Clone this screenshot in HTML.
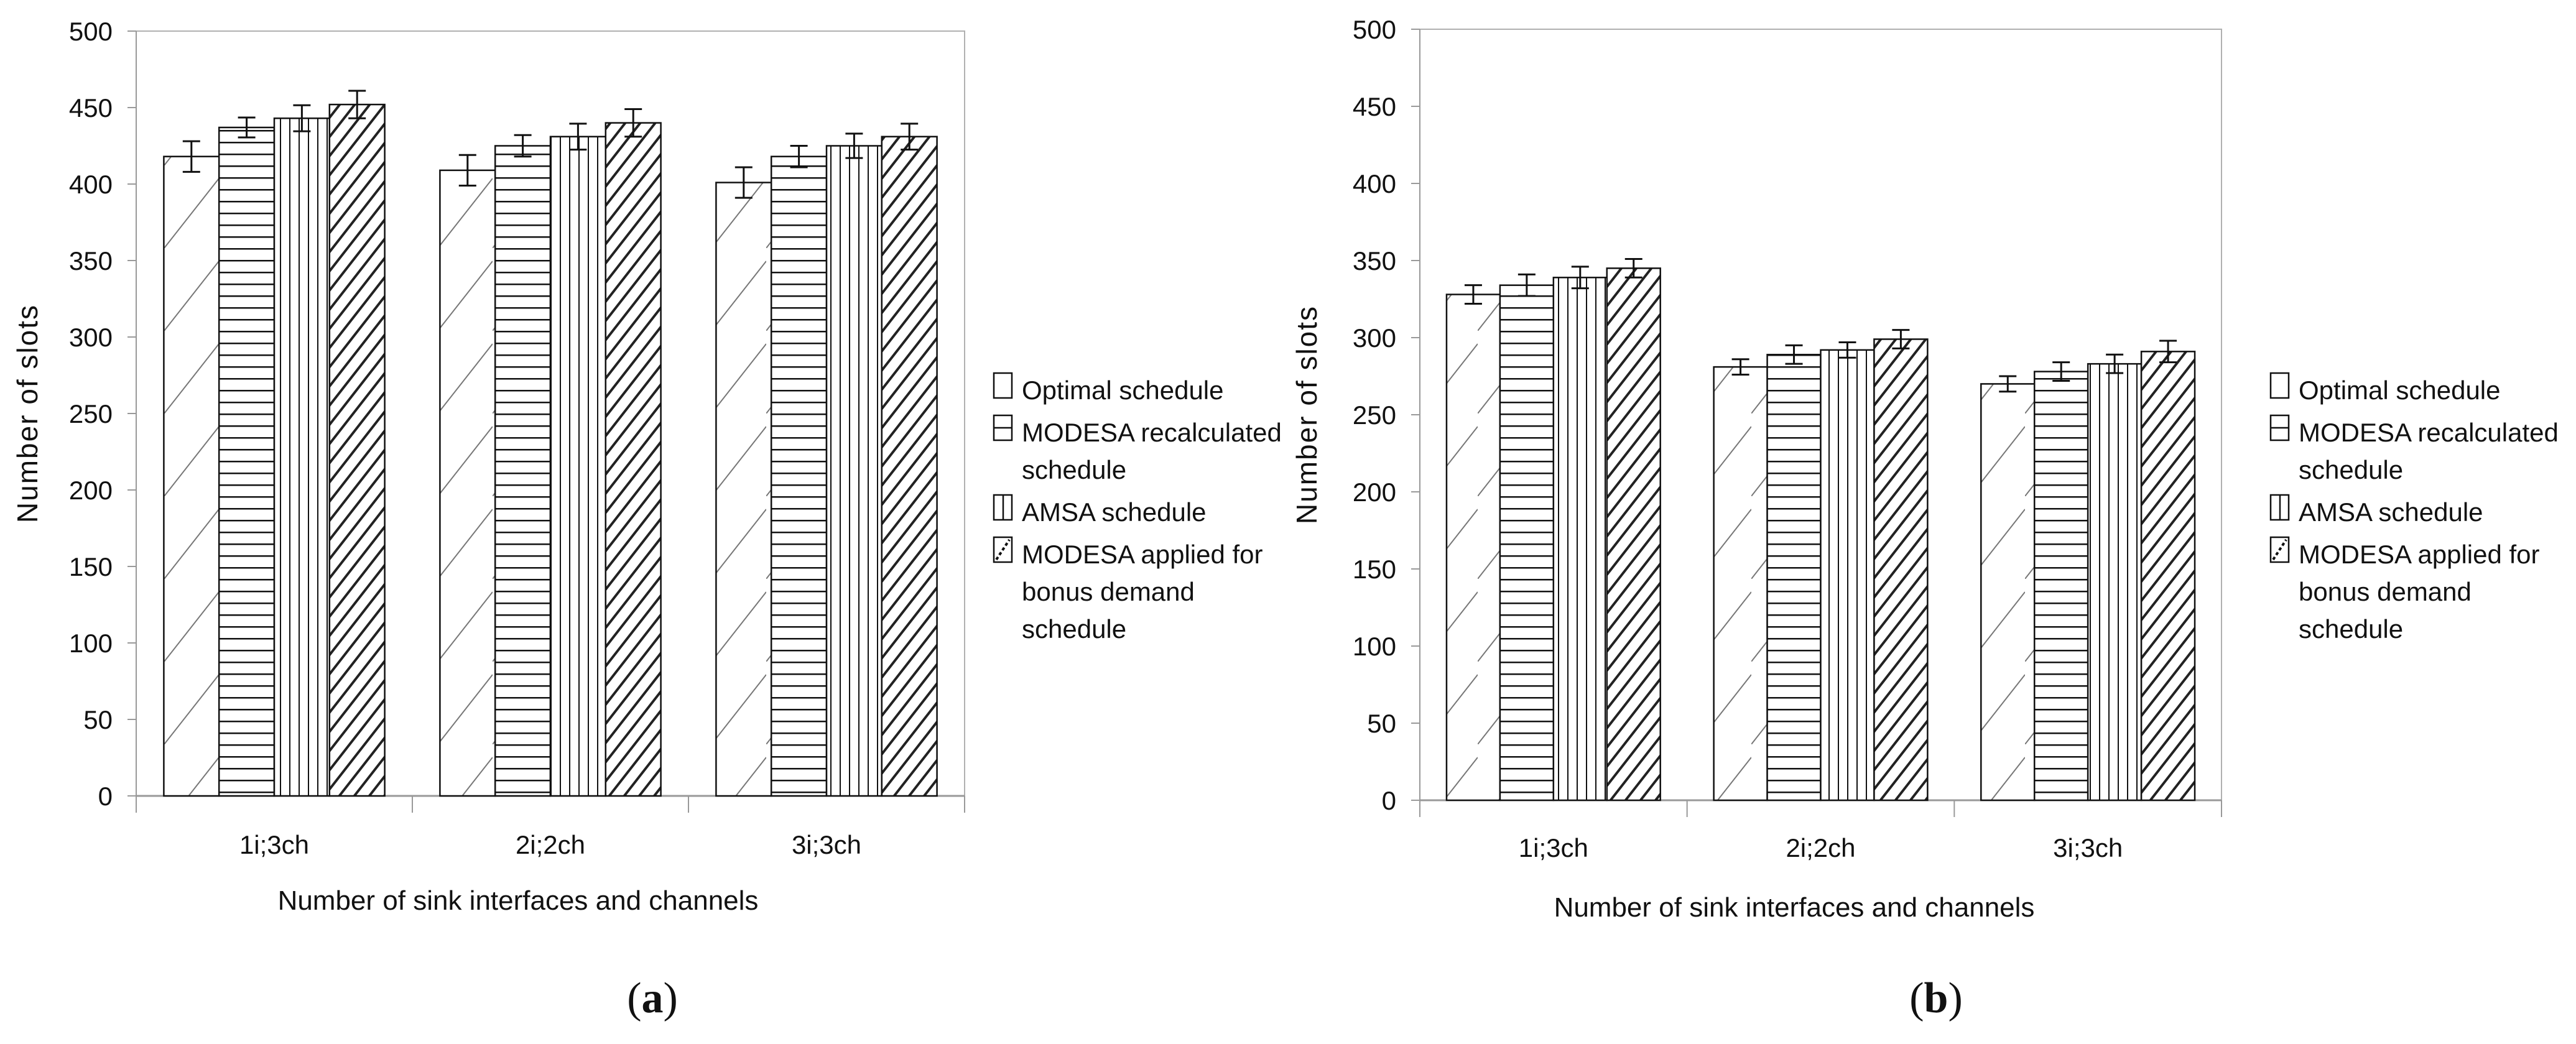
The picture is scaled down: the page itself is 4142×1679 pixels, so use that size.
<!DOCTYPE html>
<html><head><meta charset="utf-8"><style>
html,body{margin:0;padding:0;background:#fff}
svg{display:block}
text{font-family:"Liberation Sans",sans-serif;fill:#111}
</style></head><body>
<svg id="svg" width="4142" height="1679" viewBox="0 0 4142 1679" xmlns="http://www.w3.org/2000/svg">
<defs>
<pattern id="p-opt" patternUnits="userSpaceOnUse" width="88" height="133" x="0" y="0">
<line x1="0" y1="133" x2="88" y2="21" stroke="#777" stroke-width="2"/>
</pattern>
<pattern id="p-mod" patternUnits="userSpaceOnUse" width="10" height="19">
<rect x="0" y="0" width="10" height="2.5" fill="#111"/>
</pattern>
<pattern id="p-amsa" patternUnits="userSpaceOnUse" width="15" height="10">
<rect x="0" y="0" width="2" height="10" fill="#111"/>
</pattern>
<pattern id="p-bonus" patternUnits="userSpaceOnUse" width="19" height="19" patternTransform="rotate(-52)">
<rect x="0" y="0" width="19" height="4" fill="#222"/>
</pattern>
</defs>
<g id="root"></g>
</svg>
<script>
const categories = ["1i;3ch","2i;2ch","3i;3ch"];
const seriesNames = ["Optimal schedule","MODESA recalculated schedule","AMSA schedule","MODESA applied for bonus demand schedule"];
const yTicks = [0,50,100,150,200,250,300,350,400,450,500];
const aOptimal = [418,409,401];
const aModesa = [437,425,418];
const aAmsa = [443,431,425];
const aBonus = [452,440,431];
const aOptimalErr = [10,10,10];
const aModesaErr = [6.5,7,7];
const aAmsaErr = [8.5,8.5,8];
const aBonusErr = [9,9,8.5];
const bOptimal = [328,281,270];
const bModesa = [334,289,278];
const bAmsa = [339,292,283];
const bBonus = [345,299,291];
const bOptimalErr = [6,5,5];
const bModesaErr = [7,6,6];
const bAmsaErr = [7,5,6];
const bBonusErr = [6,6,7];

const NS="http://www.w3.org/2000/svg";
const root=document.getElementById('root');
function mk(tag,attrs,parent){const e=document.createElementNS(NS,tag);for(const k in attrs)e.setAttribute(k,attrs[k]);(parent||root).appendChild(e);return e;}
const fills=["url(#p-opt)","url(#p-mod)","url(#p-amsa)","url(#p-bonus)"];

function chart(cfg){
  const g=mk('g',{});
  
  
  const L=cfg.left,R=cfg.right,T=cfg.top,B=cfg.bottom;
  const y=v=>B-(v/500)*(B-T);
  const gw=(R-L)/categories.length;
  const x0=i=>L+i*gw;
  const fr=mk('rect',{x:L,y:T,width:R-L,height:B-T,fill:'none',stroke:'#b0b0b0','stroke-width':2},g);
  
  
  const ya=mk('line',{x1:L,y1:T,x2:L,y2:B+27,stroke:'#999','stroke-width':2},g);
  
  
  yTicks.forEach(t=>{
    mk('line',{x1:L-14,y1:y(t),x2:L,y2:y(t),stroke:'#999','stroke-width':2},g);
    const tx=mk('text',{x:L-38,y:y(t)+15,'text-anchor':'end','font-size':42},g);
    tx.textContent=t;
    
    
  });
  const xa=mk('line',{x1:L,y1:B,x2:R,y2:B,stroke:'#999','stroke-width':3},g);
  
  
  for(let i=0;i<=categories.length;i++) mk('line',{x1:x0(i),y1:B,x2:x0(i),y2:B+27,stroke:'#999','stroke-width':2},g);
  const bw=gw*0.8/4;
  categories.forEach((c,i)=>{
    const ct=mk('text',{x:x0(i)+gw/2,y:cfg.catY,'text-anchor':'middle','font-size':42},g);
    ct.textContent=c;
    
    
    cfg.series.forEach((s,k)=>{
      const v=s[i], e=cfg.errs[k][i];
      const bx=x0(i)+gw*0.1+k*bw;
      const r=mk('rect',{x:bx,y:y(v),width:bw,height:B-y(v),fill:'#fff',stroke:'none'},g);
      
      
      mk('rect',{x:bx,y:y(v),width:bw,height:B-y(v),fill:fills[k],stroke:'#111','stroke-width':2.5},g);
      const cx=bx+bw/2;
      const eb=mk('path',{d:`M${cx-14} ${y(v+e)}H${cx+14}M${cx} ${y(v+e)}V${y(v-e)}M${cx-14} ${y(v-e)}H${cx+14}`,stroke:'#111','stroke-width':3,fill:'none'},g);
      
      
    });
  });
  const xt=mk('text',{x:cfg.xtX,y:cfg.xtY,'text-anchor':'middle','font-size':44},g);
  xt.textContent='Number of sink interfaces and channels';
  
  
  const yt=mk('text',{x:0,y:0,'text-anchor':'middle','font-size':46,transform:`translate(${cfg.ytX},${(T+B)/2}) rotate(-90)`,'letter-spacing':2},g);
  yt.textContent='Number of slots';
  
  
  const lg=mk('g',{},g);
  
  
  const lines=[["Optimal schedule"],["MODESA recalculated","schedule"],["AMSA schedule"],["MODESA applied for","bonus demand","schedule"]];
  let by=cfg.legY;
  lines.forEach((ls,k)=>{
    const sw=mk('rect',{x:cfg.legX,y:by-40,width:29,height:40,fill:'#fff',stroke:'#111','stroke-width':2.5},lg);
    
    
    if(k==1) mk('line',{x1:cfg.legX,y1:by-20,x2:cfg.legX+29,y2:by-20,stroke:'#111','stroke-width':2.5},lg);
    if(k==2) mk('line',{x1:cfg.legX+15,y1:by-40,x2:cfg.legX+15,y2:by,stroke:'#111','stroke-width':2.5},lg);
    if(k==3) mk('path',{d:`M${cfg.legX+4} ${by-4}L${cfg.legX+25} ${by-36}`,stroke:'#111','stroke-width':4,'stroke-dasharray':'5 4'},lg);
    ls.forEach((t,j)=>{
      const tx=mk('text',{x:cfg.legX+45,y:by+2+j*60,'font-size':42},lg);
      tx.textContent=t;
      
      
    });
    by+=ls.length*60+8;
  });
  const cap=mk('text',{x:cfg.capX,y:1628,'text-anchor':'middle','font-size':70,style:'font-family:"Liberation Serif",serif'},g);
  cap.innerHTML='(<tspan font-weight="bold">'+cfg.cap+'</tspan>)';
  
  
}
chart({name:'chart-a',left:219,right:1551,top:50,bottom:1280,catY:1373,xtX:833,xtY:1463,ytX:60,legX:1598,legY:640,capX:1049,cap:'a',
  series:[aOptimal,aModesa,aAmsa,aBonus],errs:[aOptimalErr,aModesaErr,aAmsaErr,aBonusErr]});
chart({name:'chart-b',left:2283,right:3572,top:47,bottom:1287,catY:1378,xtX:2885,xtY:1474,ytX:2117,legX:3651,legY:640,capX:3113,cap:'b',
  series:[bOptimal,bModesa,bAmsa,bBonus],errs:[bOptimalErr,bModesaErr,bAmsaErr,bBonusErr]});
</script>
</body></html>
